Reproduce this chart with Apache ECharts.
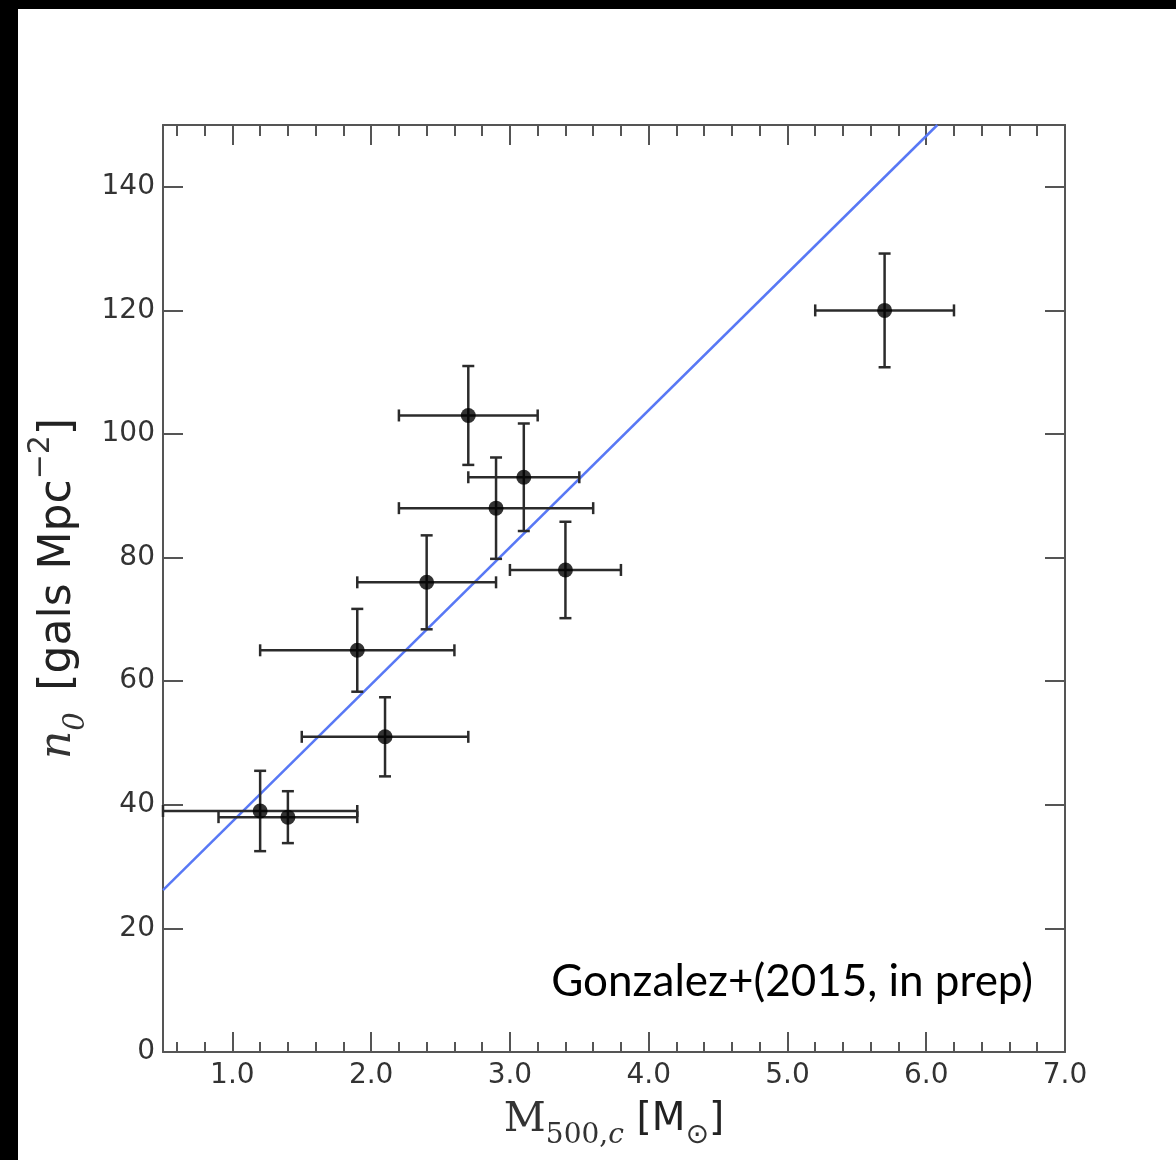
<!DOCTYPE html>
<html><head><meta charset="utf-8">
<script src="https://cdn.jsdelivr.net/npm/echarts@6/dist/echarts.min.js"></script>
<style>
html,body{margin:0;padding:0;background:#000;width:1176px;height:1160px;overflow:hidden}
#chart{position:absolute;left:18px;top:9px;width:1158px;height:1151px;background:#fff}
</style></head><body><div id="chart"></div>
<script>
// Cluster mass M500,c and its uncertainty
const mass    = [1.2, 1.4, 1.9, 2.1, 2.4, 2.7, 2.9, 3.1, 3.4, 5.7];
const massErr = [0.7, 0.5, 0.7, 0.6, 0.5, 0.5, 0.7, 0.4, 0.4, 0.5];
// Galaxy density normalisation n0 and its uncertainty
const n0      = [39, 38, 65, 51, 76, 103, 88, 93, 78, 120];
const n0Err   = [6.5, 4.2, 6.7, 6.4, 7.6, 8.0, 8.2, 8.7, 7.8, 9.2];
// Best-fit relation, drawn between its two end points
const fitMass = [0.5, 6.08];
const fitN0   = [26.2, 150];
// Tick positions and labels
const xMajorTicks = [1, 2, 3, 4, 5, 6, 7];
const xMinorTicks = [];
for (let i = 3; i <= 34; i++) { if (i % 5 !== 0) xMinorTicks.push(+(i * 0.2).toFixed(1)); }
const yTicks = [0, 20, 40, 60, 80, 100, 120, 140];

const points = mass.map((m, i) => [m, massErr[i], n0[i], n0Err[i]]);
const fitLine = fitMass.map((m, i) => [m, fitN0[i]]);

const frame = '#555';
const sans = 'DejaVu Sans';
const serif = 'DejaVu Serif';

function tickAxis(pos, ticks, len, showLine, label) {
  return {
    type: 'value', position: pos, min: 0.5, max: 7,
    axisLine: { show: showLine, onZero: false, lineStyle: { color: frame, width: 2 } },
    axisTick: { show: true, inside: true, length: len, customValues: ticks, lineStyle: { color: frame, width: 2 } },
    axisLabel: label ? {
      show: true, customValues: ticks, formatter: v => v.toFixed(1),
      fontFamily: sans, fontSize: 28, color: '#333', margin: 10
    } : { show: false },
    splitLine: { show: false }
  };
}

const xAxes = [
  tickAxis('bottom', xMajorTicks, 20, true, true),
  tickAxis('bottom', xMinorTicks, 10, false, false),
  tickAxis('top', xMajorTicks, 20, true, false),
  tickAxis('top', xMinorTicks, 11, false, false)
];
// Token line box is 60px; subscripts sit at its bottom, superscripts at its top
Object.assign(xAxes[0], {
  name: '{m|M}{sub|500,}{subi|c}{sp| }{b|[M}{sun|⊙}{b|]}',
  nameLocation: 'middle', nameGap: 38,
  nameTextStyle: {
    rich: {
      m:    { fontFamily: serif, fontSize: 41, color: '#333', lineHeight: 60, verticalAlign: 'middle' },
      sub:  { fontFamily: serif, fontSize: 28, color: '#333', lineHeight: 60, verticalAlign: 'bottom' },
      subi: { fontFamily: serif, fontStyle: 'italic', fontSize: 28, color: '#333', lineHeight: 60, verticalAlign: 'bottom' },
      sp:   { fontFamily: sans, fontSize: 40, lineHeight: 60, verticalAlign: 'middle' },
      b:    { fontFamily: sans, fontSize: 39, color: '#222', lineHeight: 60, verticalAlign: 'middle' },
      sun:  { fontFamily: sans, fontSize: 28, color: '#333', lineHeight: 60, verticalAlign: 'bottom' }
    }
  }
});

function yAxis(pos, label) {
  return {
    type: 'value', position: pos, min: 0, max: 150,
    axisLine: { show: true, onZero: false, lineStyle: { color: frame, width: 2 } },
    axisTick: { show: true, inside: true, length: 20, customValues: yTicks, lineStyle: { color: frame, width: 2 } },
    axisLabel: label ? {
      show: true, customValues: yTicks, fontFamily: sans, fontSize: 28, color: '#333', margin: 8
    } : { show: false },
    splitLine: { show: false }
  };
}
const yAxes = [yAxis('left', true), yAxis('right', false)];
Object.assign(yAxes[0], {
  name: '{n|n}{sub|0}{sp|  }{b|[gals Mpc}{sup|−2}{b|]}',
  nameLocation: 'middle', nameRotate: 90, nameGap: 68,
  nameTextStyle: {
    rich: {
      n:   { fontFamily: serif, fontStyle: 'italic', fontSize: 44, color: '#333', lineHeight: 64, verticalAlign: 'middle' },
      sub: { fontFamily: serif, fontStyle: 'italic', fontSize: 29, color: '#333', lineHeight: 64, verticalAlign: 'bottom' },
      sp:  { fontFamily: sans, fontSize: 34, lineHeight: 64, verticalAlign: 'middle' },
      b:   { fontFamily: sans, fontSize: 44, color: '#222', lineHeight: 64, verticalAlign: 'middle' },
      sup: { fontFamily: sans, fontSize: 30, color: '#333', lineHeight: 64, verticalAlign: 'top' }
    }
  }
});

const chart = echarts.init(document.getElementById('chart'));
chart.setOption({
  animation: false,
  backgroundColor: '#fff',
  grid: { left: 145, top: 116, width: 902, height: 927, containLabel: false, outerBoundsMode: 'none' },
  xAxis: xAxes,
  yAxis: yAxes,
  graphic: [{
    type: 'text', x: 1015, y: 973, z: 100,
    style: {
      text: 'Gonzalez+(2015, in prep)', fontFamily: 'Lato', fontSize: 44,
      fill: '#000', align: 'right', verticalAlign: 'middle'
    }
  }],
  series: [
    {
      type: 'line', name: 'fit', data: fitLine, xAxisIndex: 0, yAxisIndex: 0,
      showSymbol: false, symbol: 'none', z: 3,
      lineStyle: { color: '#5878f5', width: 2.5 }
    },
    {
      type: 'custom', name: 'errors', data: points, xAxisIndex: 0, yAxisIndex: 0,
      encode: { x: 0, y: 2 }, z: 4,
      renderItem: (params, api) => {
        const x = api.value(0), xe = api.value(1), y = api.value(2), ye = api.value(3);
        const l = api.coord([x - xe, y]), r = api.coord([x + xe, y]);
        const t = api.coord([x, y + ye]), b = api.coord([x, y - ye]);
        const c = 6;
        const style = { stroke: '#2b2b2b', lineWidth: 2.5 };
        const seg = (x1, y1, x2, y2) => ({ type: 'line', shape: { x1, y1, x2, y2 }, style });
        return {
          type: 'group', children: [
            seg(l[0], l[1], r[0], r[1]),
            seg(t[0], t[1], b[0], b[1]),
            seg(l[0], l[1] - c, l[0], l[1] + c),
            seg(r[0], r[1] - c, r[0], r[1] + c),
            seg(t[0] - c, t[1], t[0] + c, t[1]),
            seg(b[0] - c, b[1], b[0] + c, b[1])
          ]
        };
      }
    },
    {
      type: 'scatter', name: 'clusters', data: points.map(p => [p[0], p[2]]),
      xAxisIndex: 0, yAxisIndex: 0, symbol: 'circle', symbolSize: 15, z: 5,
      itemStyle: { color: '#000' }
    }
  ]
});
</script></body></html>
